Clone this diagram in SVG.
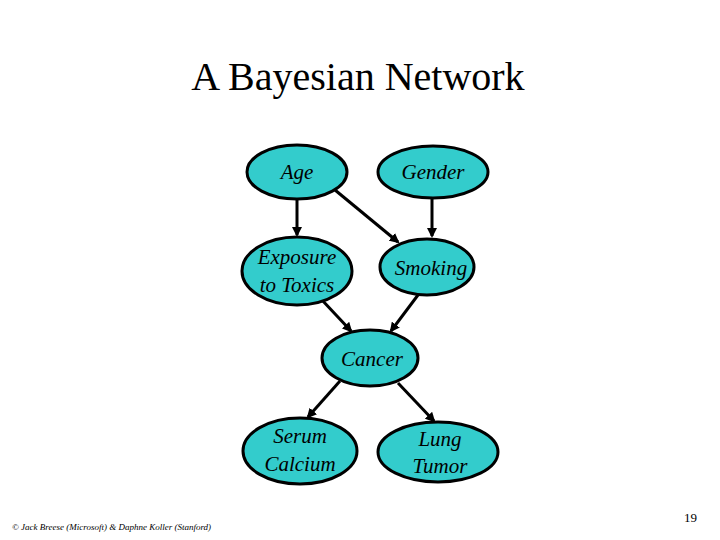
<svg xmlns="http://www.w3.org/2000/svg" width="720" height="540" viewBox="0 0 720 540">
<style>
.n{fill:#33cccc;stroke:#000;stroke-width:3}
.t{font-family:"Liberation Serif",serif;font-style:italic;font-size:21px;text-anchor:middle;fill:#000}
.c{stroke:#000;stroke-width:3;fill:none;marker-end:url(#a)}
</style>
<defs><marker id="a" markerWidth="10" markerHeight="10" refX="8" refY="5" orient="auto" markerUnits="userSpaceOnUse"><path d="M0,0L10,5L0,10z" fill="#000"/></marker></defs>
<rect width="720" height="540" fill="#fff"/>
<text x="358" y="90" font-family="Liberation Serif,serif" font-size="40" text-anchor="middle">A Bayesian Network</text>
<g id="connectors">
<line class="c" x1="297" y1="200" x2="297" y2="235"/>
<line class="c" x1="335" y1="190" x2="398" y2="242"/>
<line class="c" x1="432" y1="198" x2="432" y2="236"/>
<line class="c" x1="322" y1="300" x2="351" y2="331"/>
<line class="c" x1="418" y1="295" x2="391" y2="331"/>
<line class="c" x1="340" y1="381" x2="308" y2="417"/>
<line class="c" x1="398" y1="383" x2="434" y2="421"/>
</g>
<g id="age"><ellipse class="n" cx="297" cy="172" rx="50" ry="27"/><text class="t" x="297" y="179">Age</text></g>
<g id="gender"><ellipse class="n" cx="433" cy="172" rx="55" ry="26"/><text class="t" x="433" y="179">Gender</text></g>
<g id="exposure"><ellipse class="n" cx="297" cy="271" rx="55" ry="34"/><text class="t" x="297" y="264">Exposure</text><text class="t" x="297" y="292">to Toxics</text></g>
<g id="smoking"><ellipse class="n" cx="427" cy="267" rx="47" ry="28"/><text class="t" x="431" y="275">Smoking</text></g>
<g id="cancer"><ellipse class="n" cx="370" cy="358" rx="48" ry="28"/><text class="t" x="372" y="366">Cancer</text></g>
<g id="serum"><ellipse class="n" cx="300" cy="451" rx="57" ry="33"/><text class="t" x="300" y="443">Serum</text><text class="t" x="300" y="471">Calcium</text></g>
<g id="lung"><ellipse class="n" cx="438" cy="452" rx="60" ry="30"/><text class="t" x="440" y="446">Lung</text><text class="t" x="440" y="473">Tumor</text></g>
<text x="12" y="530" font-family="Liberation Serif,serif" font-style="italic" font-size="9">© Jack Breese (Microsoft) &amp; Daphne Koller (Stanford)</text>
<text x="697" y="522" font-family="Liberation Serif,serif" font-size="13" text-anchor="end">19</text>
</svg>
